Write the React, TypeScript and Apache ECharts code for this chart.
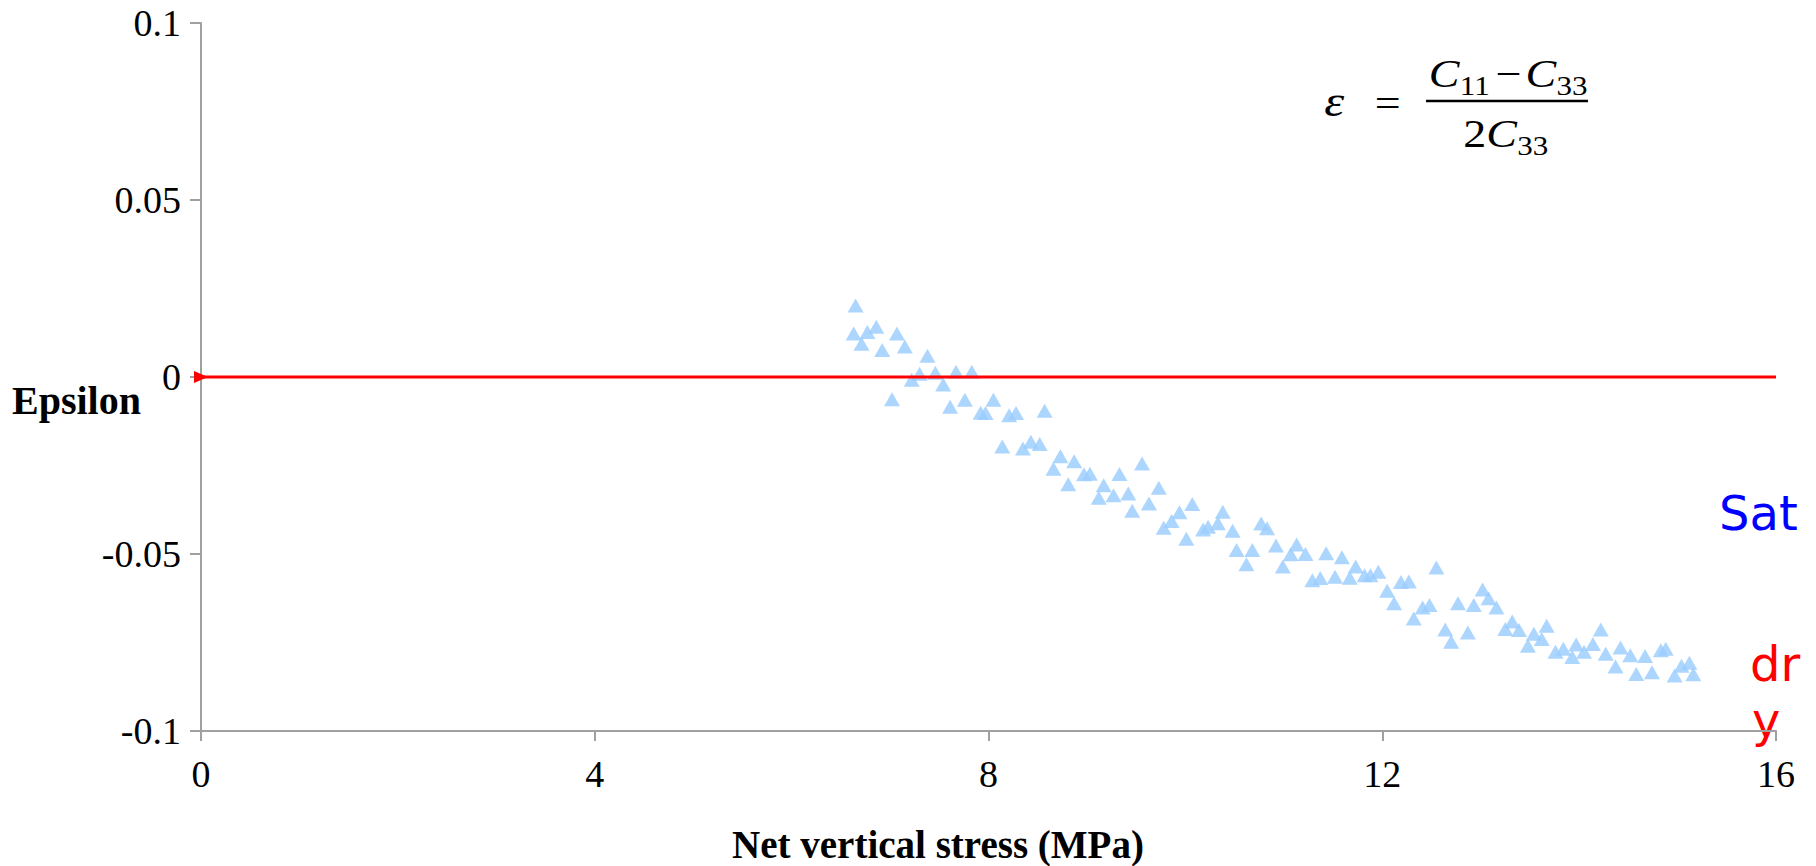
import React, { useEffect, useRef } from 'react';
import * as echarts from 'echarts';

// Saturated sample: net vertical stress (MPa) vs epsilon
const satStress = [
  6.63, 6.65, 6.71, 6.77, 6.86, 6.92, 7.02, 7.07, 7.15, 7.22,
  7.30, 7.38, 7.46, 7.54, 7.61, 7.67, 7.76, 7.83, 7.92, 7.97,
  8.05, 8.14, 8.21, 8.28, 8.35, 8.43, 8.52, 8.57, 8.66, 8.73,
  8.81, 8.87, 8.97, 9.03, 9.12, 9.17, 9.27, 9.33, 9.42, 9.46,
  9.56, 9.63, 9.73, 9.78, 9.86, 9.94, 10.01, 10.07, 10.18, 10.23,
  10.33, 10.38, 10.48, 10.52, 10.62, 10.68, 10.77, 10.83, 10.92, 10.99,
  11.07, 11.13, 11.22, 11.29, 11.37, 11.43, 11.52, 11.59, 11.67, 11.73,
  11.82, 11.88, 11.96, 12.05, 12.12, 12.19, 12.27, 12.32, 12.41, 12.48,
  12.55, 12.64, 12.70, 12.77, 12.87, 12.93, 13.02, 13.08, 13.16, 13.25,
  13.32, 13.39, 13.48, 13.54, 13.62, 13.67, 13.76, 13.84, 13.93, 13.97,
  14.05, 14.14, 14.22, 14.27, 14.37, 14.42, 14.52, 14.58, 14.67, 14.74,
  14.83, 14.88, 14.97, 15.04, 15.12, 15.16,
];
const satEpsilon = [
  0.0123, 0.0202, 0.0094, 0.0127, 0.0142, 0.0076, -0.0063, 0.0123, 0.0086, -0.0008,
  0.0009, 0.0060, 0.0012, -0.0021, -0.0084, 0.0015, -0.0064, 0.0015, -0.0101, -0.0102,
  -0.0064, -0.0196, -0.0108, -0.0102, -0.0202, -0.0183, -0.0189, -0.0095, -0.0259, -0.0224,
  -0.0303, -0.0238, -0.0275, -0.0273, -0.0341, -0.0306, -0.0334, -0.0274, -0.0329, -0.0378,
  -0.0244, -0.0357, -0.0313, -0.0426, -0.0407, -0.0382, -0.0457, -0.0359, -0.0431, -0.0423,
  -0.0413, -0.0381, -0.0434, -0.0489, -0.0529, -0.0489, -0.0414, -0.0427, -0.0476, -0.0535,
  -0.0501, -0.0473, -0.0500, -0.0574, -0.0568, -0.0498, -0.0564, -0.0509, -0.0567, -0.0535,
  -0.0560, -0.0560, -0.0550, -0.0604, -0.0639, -0.0579, -0.0578, -0.0682, -0.0651, -0.0644,
  -0.0538, -0.0713, -0.0748, -0.0639, -0.0722, -0.0644, -0.0600, -0.0625, -0.0651, -0.0712,
  -0.0691, -0.0715, -0.0759, -0.0725, -0.0740, -0.0703, -0.0776, -0.0768, -0.0791, -0.0756,
  -0.0776, -0.0754, -0.0713, -0.0782, -0.0818, -0.0764, -0.0786, -0.0839, -0.0788, -0.0834,
  -0.0772, -0.0768, -0.0843, -0.0816, -0.0807, -0.0840,
];

// Dry sample reference line
const dryStress = [0, 16];
const dryEpsilon = [0, 0];

// Axis settings
const xMin = 0;
const xMax = 16;
const xStep = 4;
const yMin = -0.1;
const yMax = 0.1;
const yStep = 0.05;

const xTitle = 'Net vertical stress (MPa)';
const yTitle = 'Epsilon';
const satName = 'Sat';
const dryName = 'dry';

const SERIF = '"Liberation Serif", "Times New Roman", serif';
const SANS = '"DejaVu Sans", Verdana, sans-serif';

export default function App() {
  const ref = useRef<HTMLDivElement>(null);

  useEffect(() => {
    const chart = echarts.init(ref.current!, null, { renderer: 'svg' });

    const satData = satStress.map((x, i) => [x, satEpsilon[i]]);
    const dryData = dryStress.map((x, i) => ({
      value: [x, dryEpsilon[i]],
      symbol: i === 0 ? 'triangle' : 'none',
    }));

    const axisLineStyle = { color: '#a0a0a0', width: 2 };
    const labelStyle = { color: '#000', fontFamily: SERIF, fontSize: 38 };

    const t = (x: number, y: number, text: string, size: number, italic = false) => ({
      type: 'text',
      x,
      y,
      style: {
        text,
        fill: '#000',
        fontFamily: SERIF,
        fontSize: size,
        fontStyle: italic ? 'italic' : 'normal',
        align: 'left',
        verticalAlign: 'middle',
      },
    });

    chart.setOption({
      animation: false,
      backgroundColor: '#fff',
      grid: { left: 201, right: 40, top: 23, bottom: 135, outerBoundsMode: 'none' },
      xAxis: {
        type: 'value',
        min: xMin,
        max: xMax,
        interval: xStep,
        axisLine: { show: true, onZero: false, lineStyle: axisLineStyle },
        axisTick: { show: true, inside: false, length: 10, lineStyle: axisLineStyle },
        axisLabel: { ...labelStyle, margin: 24 },
        splitLine: { show: false },
      },
      yAxis: {
        type: 'value',
        min: yMin,
        max: yMax,
        interval: yStep,
        axisLine: { show: true, onZero: false, lineStyle: axisLineStyle },
        axisTick: { show: true, inside: false, length: 11, lineStyle: axisLineStyle },
        axisLabel: { ...labelStyle, margin: 20 },
        splitLine: { show: false },
      },
      series: [
        {
          name: satName,
          type: 'scatter',
          data: satData,
          symbol: 'triangle',
          symbolSize: [16, 14],
          itemStyle: { color: '#99ccff' },
          z: 2,
        },
        {
          name: dryName,
          type: 'line',
          data: dryData,
          symbolSize: [12, 14],
          symbolRotate: -90,
          showSymbol: true,
          lineStyle: { color: '#ff0000', width: 3 },
          itemStyle: { color: '#ff0000' },
          z: 3,
        },
      ],
      graphic: [
        {
          type: 'text',
          x: 12,
          y: 400,
          style: {
            text: yTitle,
            fill: '#000',
            fontFamily: SERIF,
            fontSize: 40,
            fontWeight: 'bold',
            align: 'left',
            verticalAlign: 'middle',
          },
        },
        {
          type: 'text',
          x: 938,
          y: 844,
          style: {
            text: xTitle,
            fill: '#000',
            fontFamily: SERIF,
            fontSize: 39,
            fontWeight: 'bold',
            align: 'center',
            verticalAlign: 'middle',
          },
        },
        {
          type: 'text',
          x: 1719,
          y: 513,
          style: {
            text: satName,
            fill: '#0000ff',
            fontFamily: SANS,
            fontSize: 48,
            align: 'left',
            verticalAlign: 'middle',
          },
        },
        {
          type: 'text',
          x: 1750,
          y: 664,
          style: {
            text: dryName.slice(0, 2),
            fill: '#ff0000',
            fontFamily: SANS,
            fontSize: 48,
            align: 'left',
            verticalAlign: 'middle',
          },
        },
        {
          type: 'text',
          x: 1752,
          y: 720,
          style: {
            text: dryName.slice(2),
            fill: '#ff0000',
            fontFamily: SANS,
            fontSize: 48,
            align: 'left',
            verticalAlign: 'middle',
          },
        },
        {
          type: 'group',
          x: 1323,
          y: 0,
          scaleX: 1.15,
          children: [
            t(1, 101.6, 'ε', 44, true),
            t(45, 103.5, '=', 40),
            {
              type: 'line',
              shape: { x1: 89.6, y1: 101, x2: 230.4, y2: 101 },
              style: { stroke: '#000', lineWidth: 2.5 },
            },
            t(92, 74, 'C', 40, true),
            t(119, 85.5, '11', 27),
            t(150, 74, '−', 40),
            t(176, 74, 'C', 40, true),
            t(203, 85.5, '33', 27),
            t(122, 134, '2', 40),
            t(142, 134, 'C', 40, true),
            t(169, 145.5, '33', 27),
          ],
        },
      ],
    });

    return () => chart.dispose();
  }, []);

  return (
    <div
      ref={ref}
      style={{ position: 'absolute', left: 0, top: 0, width: 1816, height: 866 }}
    />
  );
}
